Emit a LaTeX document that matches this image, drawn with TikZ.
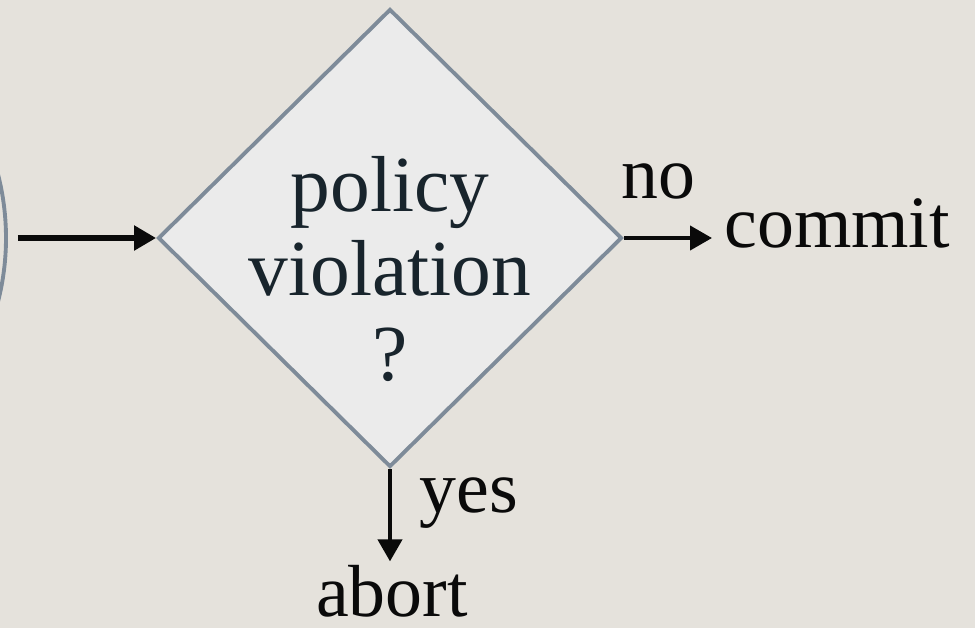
\documentclass[tikz,border=0pt]{standalone}
\usepackage{fontspec}
\setmainfont{Liberation Serif}
\usepackage{tikz}
\usepackage{xcolor}
\usetikzlibrary{arrows.meta,positioning,shapes.geometric,calc}
\definecolor{canvas}{HTML}{E5E2DC}
\definecolor{boxfill}{HTML}{EBEBEB}
\definecolor{slate}{HTML}{7E8B99}
\definecolor{ink}{HTML}{0A0A0A}
\definecolor{darkslate}{HTML}{18242C}
\tikzset{
  bigtext/.style={font=\fontsize{21}{25}\selectfont,text=ink},
  boxtext/.style={font=\fontsize{22.6}{24}\selectfont,text=darkslate,
                  align=center},
  decisionbox/.style={diamond,draw=slate,fill=boxfill,line width=1.1pt,
                      minimum width=4.64cm,minimum height=4.58cm,inner sep=0pt},
  startbox/.style={circle,draw=slate,line width=1.1pt,
                   minimum size=5.1cm,inner sep=0pt},
  flowarr/.style={-{Triangle[length=2.2mm,width=2.4mm]},line width=1.2pt,
                  draw=ink}
}
\begin{document}
\begin{tikzpicture}[x=1cm,y=1cm]
    \clip (0,0) rectangle (9.75,6.28);
    \fill[canvas] (0,0) rectangle (9.75,6.28);
    \node[startbox] (start) at (-2.49,3.90) {};
    \node[decisionbox] (decision) at (3.90,3.90) {};
    % base anchor sits on the last line
    \node[boxtext,anchor=base] (question) at (3.90,2.48)
      {policy\\violation\\?};
    \node[bigtext,anchor=base west] (commit) at (7.12,3.81) {commit};
    \node[bigtext,anchor=base] (nolabel) at (6.58,4.30) {no};
    \node[bigtext,anchor=base west] (yeslabel) at (4.07,1.16) {yes};
    \node[bigtext,anchor=base] (abort) at (3.92,0.12) {abort};
    \draw[flowarr,line width=1.5pt,shorten <=1mm] (start.east) -- (decision.west);
    \draw[flowarr] (decision.east) -- (decision.east -| commit.west);
    \draw[flowarr,shorten >=-0.9mm] (decision.south) -- (decision.south |- abort.north);
\end{tikzpicture}
\end{document}
